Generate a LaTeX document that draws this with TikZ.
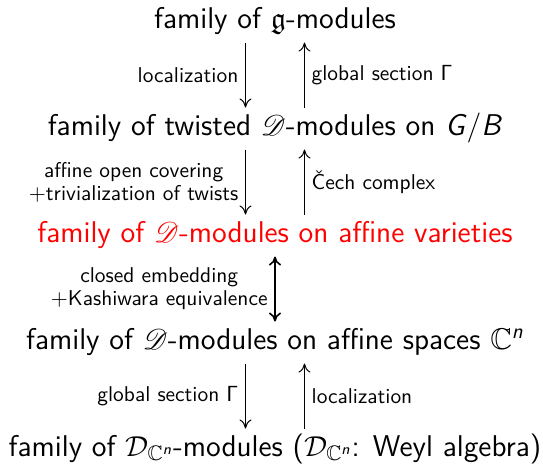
\documentclass[tikz,border=0pt]{standalone}
\usepackage{amsmath,amssymb}
\usepackage{mathrsfs}
\usetikzlibrary{positioning, arrows.meta}

\tikzset{
  family/.style = {font=\fontsize{15}{18}\selectfont\sffamily, text height=10pt, text depth=3.5pt, inner sep=3.5pt},
  lbl/.style = {font=\fontsize{10.7}{11.5}\selectfont\sffamily, align=center},
}

\begin{document}
\begin{tikzpicture}[>={To[length=4.5pt,width=6pt]}, line width=0.5pt, node distance = 53.5pt, on grid, auto]
  \useasboundingbox (0,0) rectangle (271.5pt,-231.5pt);
  \node[family] (gmod) at (137.5pt,-10.75pt) {family of $\mathfrak{g}$-modules};
  \node[family] (twist) [below=of gmod] {family of twisted $\mathscr{D}$-modules on \textit{G}/\textit{B}};
  \node[family, red] (affvar) [below=of twist] {family of $\mathscr{D}$-modules on affine varieties};
  \node[family] (affsp) [below=of affvar] {family of $\mathscr{D}$-modules on affine spaces $\mathbb{C}^{\textit{n}}$};
  \node[family] (weyl) [below=of affsp] {family of $\mathcal{D}_{\mathbb{C}^{\textit{n}}}$-modules ($\mathcal{D}_{\mathbb{C}^{\textit{n}}}$: Weyl algebra)};
  \path[->]
    ([xshift=-14.75pt]gmod.south) edge node[lbl, left] {localization} ([xshift=-14.75pt]twist.north)
    ([xshift=14.75pt]twist.north) edge node[lbl, right] {global section $\mathsf{\Gamma}$} ([xshift=14.75pt]gmod.south)
    ([xshift=-14.75pt]twist.south) edge node[lbl, left] {affine open covering\\$+$trivialization of twists} ([xshift=-14.75pt]affvar.north)
    ([xshift=14.75pt]affvar.north) edge node[lbl, right] {Čech complex} ([xshift=14.75pt]twist.south)
    (affvar.south) edge[<->, line width=0.8pt] node[lbl, left] {closed embedding\\$+$Kashiwara equivalence} (affsp.north)
    ([xshift=-14.75pt]affsp.south) edge node[lbl, left] {global section $\mathsf{\Gamma}$} ([xshift=-14.75pt]weyl.north)
    ([xshift=14.75pt]weyl.north) edge node[lbl, right] {localization} ([xshift=14.75pt]affsp.south);
\end{tikzpicture}
\end{document}
